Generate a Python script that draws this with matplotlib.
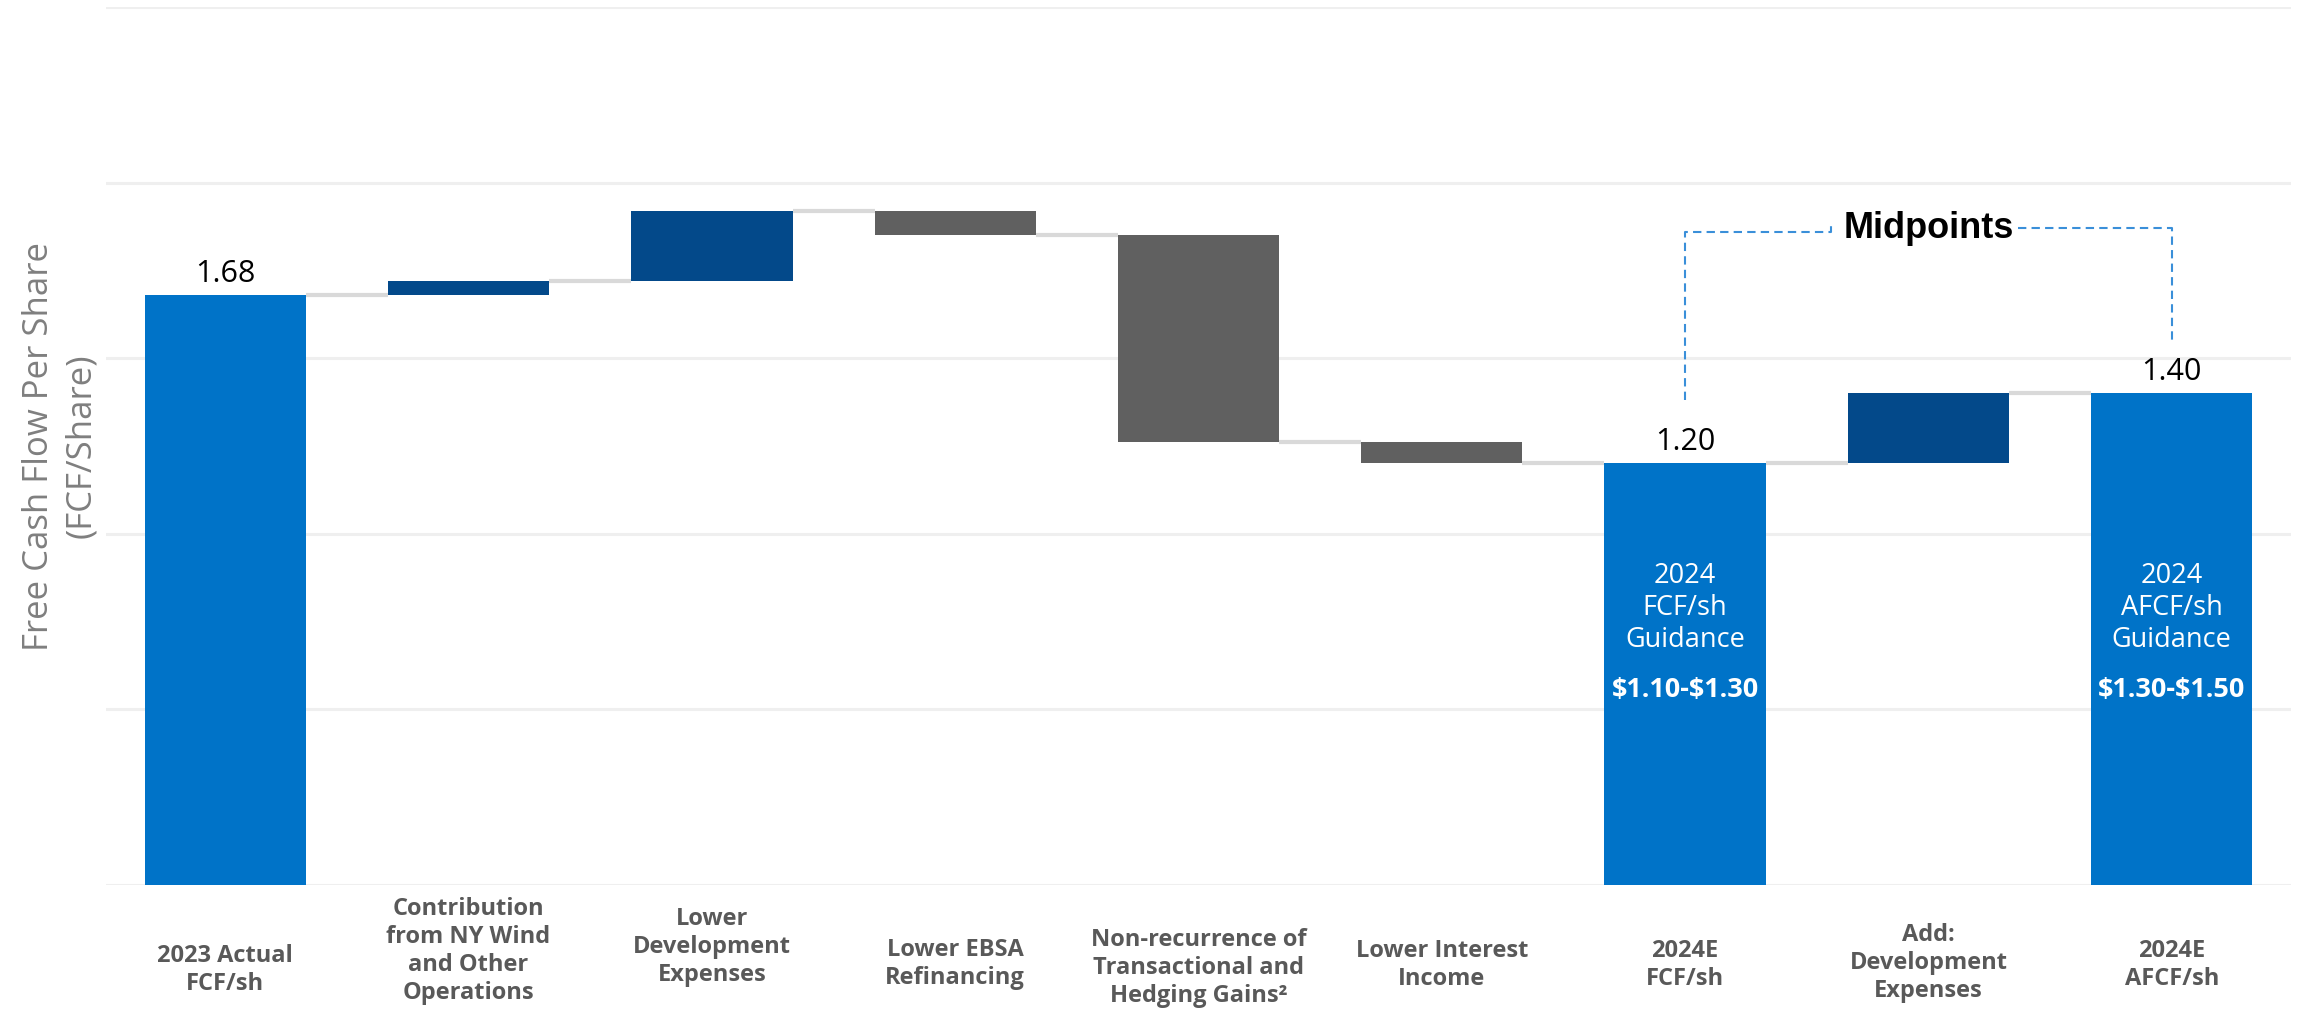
import numpy as np
import matplotlib
matplotlib.use("Agg")
import matplotlib.pyplot as plt

# ---- data ----
categories = [
    "2023 Actual\nFCF/sh",
    "Contribution\nfrom NY Wind\nand Other\nOperations",
    "Lower\nDevelopment\nExpenses",
    "Lower EBSA\nRefinancing",
    "Non-recurrence of\nTransactional and\nHedging Gains\u00b2",
    "Lower Interest\nIncome",
    "2024E\nFCF/sh",
    "Add:\nDevelopment\nExpenses",
    "2024E\nAFCF/sh",
]
values = [1.68, 0.04, 0.20, -0.07, -0.59, -0.06, 1.20, 0.20, 1.40]
is_total = [True, False, False, False, False, False, True, False, True]
total_labels = ["1.68", None, None, None, None, None, "1.20", None, "1.40"]
guidance_text = {6: ("2024\nFCF/sh\nGuidance", "\\$1.10-\\$1.30"),
                 8: ("2024\nAFCF/sh\nGuidance", "\\$1.30-\\$1.50")}
label_y_px = [970, 951, 947, 964, 968, 965, 965, 963, 965]

C_TOTAL = "#0073C8"
C_UP = "#03498A"
C_DOWN = "#606060"
C_CONN = "#D9D9D9"
C_GRID = "#EFEFEF"
C_DASH = "#3A8FD9"

W, H = 2300, 1011
fig = plt.figure(figsize=(W / 100, H / 100), dpi=100)
ax = fig.add_axes([106 / W, 1 - 884.5 / H, (2291 - 106) / W, (884.5 - 7) / H])
ax.set_xlim(-0.49, 8.49)
ax.set_ylim(0, 2.5)
for s in ax.spines.values():
    s.set_visible(False)
ax.set_xticks([])
ax.set_yticks([])
for g in np.arange(0, 2.51, 0.5):
    ax.axhline(g, color=C_GRID, lw=2.2, zorder=0)

x = np.arange(len(values))
bw = 0.663
bottoms, heights, colors, ends = [], [], [], []
level = 0.0
for v, tot in zip(values, is_total):
    if tot:
        bottoms.append(0.0)
        heights.append(v)
        colors.append(C_TOTAL)
        level = v
    else:
        bottoms.append(min(level, level + v))
        heights.append(abs(v))
        colors.append(C_UP if v > 0 else C_DOWN)
        level = level + v
    ends.append(level)

ax.bar(x, heights, bottom=bottoms, width=bw, color=colors, zorder=3)

# connectors
for i in range(len(values) - 1):
    ax.plot([x[i] + bw / 2, x[i + 1] - bw / 2], [ends[i], ends[i]],
            color=C_CONN, lw=3, zorder=2, solid_capstyle="butt")

# value labels on totals
for i, lab in enumerate(total_labels):
    if lab:
        ax.text(x[i], values[i] + 0.018, lab, ha="center", va="bottom",
                fontsize=22, family="Open Sans", color="black")

# guidance text inside bars
for i, (t1, t2) in guidance_text.items():
    ax.text(x[i], 0.788, t1, ha="center", va="center", fontsize=19.5,
            family="Open Sans", color="white", linespacing=1.2)
    ax.text(x[i], 0.555, t2, ha="center", va="center", fontsize=19.5,
            family="Open Sans", fontweight="bold", color="white")

# Midpoints bracket
dash = dict(color=C_DASH, lw=1.5, ls=(0, (4, 2.5)), zorder=4)
ax.plot([6, 6, 6.60, 6.60], [1.38, 1.86, 1.86, 1.875], **dash)
ax.plot([7.37, 8, 8], [1.87, 1.87, 1.55], **dash)
ax.text(7, 1.87, "Midpoints", ha="center", va="center", fontsize=26,
        family="Liberation Sans", fontweight="bold", color="black")

# category labels
for i, (cat, ypx) in enumerate(zip(categories, label_y_px)):
    xf = ax.transData.transform((x[i], 0))[0] / W
    fig.text(xf, 1 - ypx / H, cat, ha="center", va="center", fontsize=17,
             family="Open Sans", fontweight="bold", color="#595959",
             linespacing=1.22)

fig.text(60 / W, 1 - 446 / H, "Free Cash Flow Per Share\n(FCF/Share)",
         rotation=90, ha="center", va="center", fontsize=25,
         family="Open Sans", color="#7F7F7F", linespacing=1.3)

fig.savefig("out.png", dpi=100)
